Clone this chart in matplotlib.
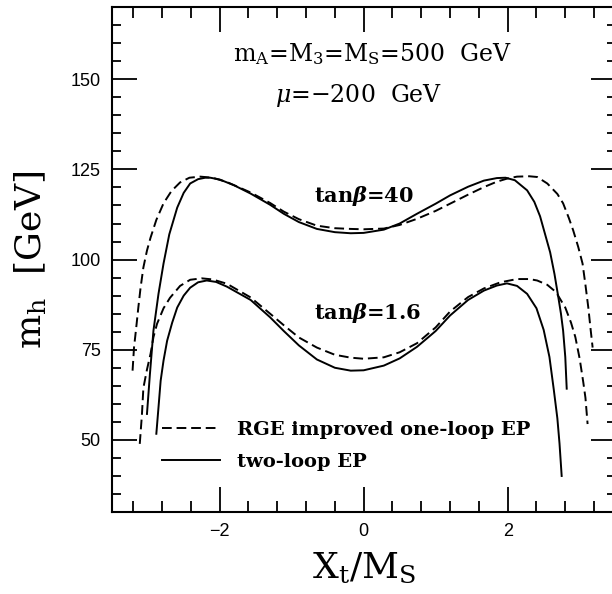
import matplotlib
matplotlib.use("Agg")
import matplotlib.pyplot as plt
from matplotlib.ticker import MultipleLocator

plt.rcParams['mathtext.fontset'] = 'dejavuserif'

# tan(beta)=40, two-loop EP (solid)
x40_two = [-3.01, -2.97, -2.92, -2.85, -2.78, -2.70, -2.59, -2.50, -2.41, -2.30, -2.20, -2.13,
           -2.00, -1.80, -1.57, -1.30, -1.11, -0.90, -0.65, -0.40, -0.18, 0.00, 0.28, 0.50,
           0.74, 1.00, 1.20, 1.45, 1.67, 1.85, 1.97, 2.10, 2.27, 2.37, 2.45, 2.52, 2.59,
           2.65, 2.70, 2.74, 2.77, 2.80, 2.82]
y40_two = [57.2, 68.0, 80.3, 90.5, 98.9, 107.0, 114.4, 118.5, 121.1, 122.3, 122.7, 122.7,
           122.2, 120.6, 118.3, 115.2, 112.7, 110.4, 108.5, 107.6, 107.3, 107.4, 108.3, 110.0,
           112.7, 115.5, 117.8, 120.2, 121.9, 122.6, 122.7, 122.0, 119.2, 116.0, 112.0, 107.0,
           102.0, 96.0, 90.0, 85.0, 80.3, 73.0, 64.2]

# tan(beta)=40, RGE improved one-loop EP (dashed)
x40_one = [-3.21, -3.19, -3.16, -3.13, -3.10, -3.06, -3.01, -2.96, -2.88, -2.78, -2.67, -2.55,
           -2.42, -2.27, -2.10, -1.90, -1.57, -1.30, -1.11, -0.90, -0.65, -0.40, -0.18, 0.00,
           0.28, 0.50, 0.74, 1.00, 1.20, 1.45, 1.67, 1.85, 2.00, 2.13, 2.30, 2.41, 2.55,
           2.69, 2.77, 2.85, 2.91, 2.98, 3.04, 3.08, 3.12, 3.15, 3.18]
y40_one = [69.2, 75.6, 81.0, 86.7, 92.0, 97.8, 102.5, 106.1, 111.0, 115.6, 119.0, 121.4,
           122.7, 123.0, 122.7, 121.5, 118.6, 115.7, 113.3, 111.2, 109.4, 108.7, 108.5, 108.4,
           108.6, 109.6, 111.3, 113.5, 115.5, 118.0, 120.1, 121.6, 122.5, 123.0, 123.1, 122.9, 121.1,
           118.2, 115.6, 111.5, 108.1, 103.5, 98.9, 93.0, 86.7, 81.0, 75.6]

# tan(beta)=1.6, two-loop EP (solid)
x16_two = [-2.88, -2.85, -2.82, -2.78, -2.73, -2.66, -2.59, -2.50, -2.41, -2.30, -2.18, -2.05,
           -1.90, -1.57, -1.30, -1.11, -0.90, -0.65, -0.40, -0.18, 0.00, 0.28, 0.50, 0.74,
           0.90, 1.00, 1.20, 1.45, 1.67, 1.85, 1.99, 2.13, 2.27, 2.40, 2.50, 2.58, 2.64, 2.69,
           2.72, 2.75]
y16_two = [51.7, 59.0, 66.4, 72.0, 77.5, 82.5, 86.7, 90.0, 92.2, 93.7, 94.2, 93.8,
           92.5, 88.8, 84.0, 80.2, 76.2, 72.3, 70.0, 69.2, 69.3, 70.6, 72.6, 75.8,
           78.5, 80.2, 84.5, 88.8, 91.4, 92.8, 93.4, 92.7, 90.5, 86.5, 80.5, 73.0, 64.0, 56.0,
           49.0, 40.0]

# tan(beta)=1.6, RGE improved one-loop EP (dashed)
x16_one = [-3.11, -3.08, -3.06, -3.01, -2.96, -2.92, -2.87, -2.78, -2.69, -2.55, -2.41, -2.25,
           -2.10, -1.90, -1.57, -1.30, -1.11, -0.90, -0.65, -0.40, -0.18, 0.00, 0.28, 0.50,
           0.74, 1.00, 1.20, 1.45, 1.67, 1.90, 2.13, 2.30, 2.41, 2.55, 2.67, 2.80, 2.88,
           2.94, 3.00, 3.05, 3.08, 3.11]
y16_one = [48.9, 57.0, 64.4, 69.5, 73.9, 78.5, 82.2, 86.5, 89.4, 92.7, 94.4, 94.8,
           94.5, 93.3, 89.5, 85.0, 81.8, 78.4, 75.6, 73.6, 72.8, 72.5, 72.9, 74.3,
           76.8, 81.2, 85.6, 89.6, 92.0, 93.7, 94.6, 94.6, 94.2, 93.0, 91.0, 86.7, 82.5,
           78.5, 72.5, 66.0, 61.7, 54.4]

xticks = [-2, 0, 2]
yticks = [50, 75, 100, 125, 150]

fig = plt.figure(figsize=(6.12, 5.94), dpi=100)
ax = fig.add_axes([0.1825, 0.138, 0.8235, 0.850])

dash = (0, (5, 2.5))
lw = 1.4
ax.plot(x40_one, y40_one, color='black', lw=lw, linestyle=dash,
        label='RGE improved one-loop EP')
ax.plot(x40_two, y40_two, color='black', lw=lw, label='two-loop EP')
ax.plot(x16_one, y16_one, color='black', lw=lw, linestyle=dash)
ax.plot(x16_two, y16_two, color='black', lw=lw)

ax.set_xlim(-3.5, 3.5)
ax.set_ylim(30, 170)
ax.set_xticks(xticks)
ax.set_yticks(yticks)
ax.xaxis.set_minor_locator(MultipleLocator(0.4))
ax.yaxis.set_minor_locator(MultipleLocator(5))
ax.tick_params(which='both', direction='in', top=True, right=True, width=1.3)
ax.tick_params(which='major', length=18, labelsize=13, pad=8)
ax.tick_params(axis='x', which='minor', length=8)
ax.tick_params(axis='y', which='minor', length=6.5)
for lab in ax.get_xticklabels() + ax.get_yticklabels():
    lab.set_family('Liberation Sans')
for sp in ax.spines.values():
    sp.set_linewidth(1.5)

ax.set_xlabel(r'X$_{\rm t}$/M$_{\rm S}$', family='DejaVu Serif', fontsize=26, labelpad=7)
ax.set_ylabel(r'm$_{\rm h}$  [GeV]', family='DejaVu Serif', fontsize=26, labelpad=15)

ax.text(0.12, 154.9, r'm$_{\rm A}$=M$_3$=M$_{\rm S}$=500  GeV', family='DejaVu Serif',
        fontsize=17, ha='center', va='baseline')
ax.text(-0.07, 143.8, r'$\mu$=$-$200  GeV', family='DejaVu Serif',
        fontsize=17, ha='center', va='baseline')
ax.text(0.0, 116.0, r'tan$\boldsymbol{\beta}$=40', family='DejaVu Serif', fontweight='bold',
        fontsize=15, ha='center', va='baseline')
ax.text(0.05, 83.6, r'tan$\boldsymbol{\beta}$=1.6', family='DejaVu Serif', fontweight='bold',
        fontsize=15, ha='center', va='baseline')

leg = ax.legend(loc='lower left', bbox_to_anchor=(0.099, 0.082), frameon=False,
                handlelength=3.0, handletextpad=0.9, labelspacing=0.72, borderpad=0,
                borderaxespad=0, prop={'family': 'DejaVu Serif', 'weight': 'bold', 'size': 14})

fig.savefig('out.png', dpi=100)
